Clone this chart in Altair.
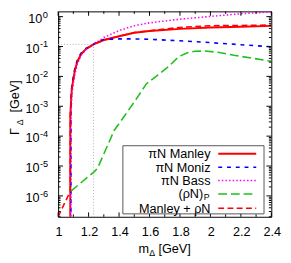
import altair as alt
import pandas as pd

# ---------------- data ----------------
m_manley = [1.0795, 1.08, 1.085, 1.09, 1.1, 1.11, 1.125, 1.15, 1.18, 1.21, 1.232,
            1.3, 1.4, 1.5, 1.6, 1.8, 2.0, 2.2, 2.4]
g_manley = [1e-8, 5e-4, 1.5e-3, 4e-3, 8e-3, 0.016, 0.03, 0.055, 0.08, 0.1, 0.118,
            0.165, 0.22, 0.29, 0.33, 0.39, 0.43, 0.46, 0.49]

m_moniz = [1.0835, 1.084, 1.085, 1.09, 1.1, 1.11, 1.125, 1.15, 1.18, 1.21, 1.232,
           1.26, 1.3, 1.4, 1.5, 1.6, 1.8, 2.0, 2.2, 2.4]
g_moniz = [1e-8, 4e-4, 1.8e-3, 5e-3, 0.01, 0.019, 0.034, 0.06, 0.085, 0.104, 0.118,
           0.15, 0.172, 0.18, 0.18, 0.175, 0.155, 0.135, 0.115, 0.098]

m_bass = [1.0835, 1.084, 1.085, 1.09, 1.1, 1.11, 1.125, 1.15, 1.18, 1.21, 1.232,
          1.3, 1.4, 1.5, 1.6, 1.8, 2.0, 2.2, 2.4]
g_bass = [1e-8, 1e-4, 6e-4, 2.5e-3, 6e-3, 0.012, 0.025, 0.05, 0.077, 0.1, 0.118,
          0.2, 0.34, 0.5, 0.62, 0.82, 1.02, 1.25, 1.45]

m_rhon = [1.084, 1.238, 1.259, 1.31, 1.368, 1.44, 1.515, 1.579, 1.65, 1.728, 1.792,
          1.85, 1.898, 1.962, 2.05, 2.154, 2.27, 2.4]
g_rhon = [1.45e-6, 6.5e-6, 8.5e-6, 3.3e-5, 1.55e-4, 5.1e-4, 1.8e-3, 5.6e-3, 0.0107,
          0.022, 0.046, 0.062, 0.069, 0.071, 0.064, 0.051, 0.041, 0.032]

m_sum = [1.0, 1.079, 1.0795, 1.08, 1.085, 1.09, 1.1, 1.11, 1.125, 1.15, 1.18, 1.21,
         1.232, 1.3, 1.4, 1.5, 1.6, 1.8, 2.0, 2.2, 2.4]
g_sum = [2e-7, 1.4e-6, 1.5e-6, 5e-4, 1.5e-3, 4e-3, 8e-3, 0.016, 0.03, 0.055, 0.08, 0.1,
         0.118, 0.165, 0.22, 0.292, 0.338, 0.436, 0.498, 0.507, 0.522]

ref_m = [1.0, 1.232, 1.232]
ref_g = [0.118, 0.118, 2e-7]

legend_labels = ["πN Manley", "πN Moniz", "πN Bass", "(ρN)", "Manley + ρN"]
x_major = [1.0, 1.2, 1.4, 1.6, 1.8, 2.0, 2.2, 2.4]
x_minor = [1.1, 1.3, 1.5, 1.7, 1.9, 2.1, 2.3]
x_labels = ["1", "1.2", "1.4", "1.6", "1.8", "2", "2.2", "2.4"]
y_exps = [0, -1, -2, -3, -4, -5, -6]

# ---------------- layout ----------------
W, H = 219, 211
FONT = "Liberation Sans"
YDOM = [2e-7, 1.5]
xs = alt.Scale(domain=[1.0, 2.4], nice=False, zero=False)
ys = alt.Scale(type="log", domain=YDOM, nice=False)


def X(f="m"):
    return alt.X(f"{f}:Q", scale=xs, axis=None)


def Y(f="g"):
    return alt.Y(f"{f}:Q", scale=ys, axis=None)


def curve(ms, gs, color, width, dash=None):
    df = pd.DataFrame({"m": ms, "g": gs, "i": list(range(len(ms)))})
    kw = dict(color=color, strokeWidth=width, clip=True)
    if dash:
        kw["strokeDash"] = dash
    return alt.Chart(df).mark_line(**kw).encode(x=X(), y=Y(), order=alt.Order("i:Q"))


one = pd.DataFrame({"a": [0]})

RED, BLUE, MAG, GREEN = "#ff0000", "#0000ff", "#ff00ff", "#1fc01f"
styles = [
    (RED, 2, None),
    (BLUE, 1.6, [4, 5]),
    (MAG, 1.6, [1.5, 2.2]),
    (GREEN, 1.6, [9, 4]),
    (RED, 1.6, [6, 3.5]),
]

layers = []
layers.append(curve(ref_m, ref_g, "#b0b0b0", 1, [1, 2]))
layers.append(curve(m_manley, g_manley, *styles[0]))
layers.append(curve(m_moniz, g_moniz, *styles[1]))
layers.append(curve(m_bass, g_bass, *styles[2]))
layers.append(curve(m_rhon, g_rhon, *styles[3]))
layers.append(curve(m_sum, g_sum, *styles[4]))

# ---------------- ticks (inward, all four sides) ----------------
xmaj = pd.DataFrame({"t": x_major})
xmin = pd.DataFrame({"t": x_minor})
for df, L in ((xmaj, 4.5), (xmin, 2.5)):
    layers.append(alt.Chart(df).mark_rule(color="black", strokeWidth=1).encode(
        x=X("t"), y=alt.value(H), y2=alt.value(H - L)))
    layers.append(alt.Chart(df).mark_rule(color="black", strokeWidth=1).encode(
        x=X("t"), y=alt.value(0), y2=alt.value(L)))

ymaj_vals = [10.0 ** e for e in y_exps]
ymin_vals = [d * 10.0 ** k for k in range(-7, 1) for d in range(2, 10)
             if YDOM[0] <= d * 10.0 ** k <= YDOM[1]]
ymaj = pd.DataFrame({"t": ymaj_vals})
ymin = pd.DataFrame({"t": ymin_vals})
for df, L in ((ymaj, 5), (ymin, 2.5)):
    layers.append(alt.Chart(df).mark_rule(color="black", strokeWidth=1).encode(
        y=Y("t"), x=alt.value(0), x2=alt.value(L)))
    layers.append(alt.Chart(df).mark_rule(color="black", strokeWidth=1).encode(
        y=Y("t"), x=alt.value(W), x2=alt.value(W - L)))

# ---------------- tick labels ----------------
xl = pd.DataFrame({"t": x_major, "lab": x_labels})
layers.append(alt.Chart(xl).mark_text(font=FONT, fontSize=13, align="center",
                                      baseline="alphabetic", dx=1, color="black").encode(
    x=X("t"), y=alt.value(H + 19.3), text="lab:N"))

yl = pd.DataFrame({"v": ymaj_vals, "e": [str(e) for e in y_exps], "z": [e == 0 for e in y_exps]})
for zero, xb in ((True, -16.2), (False, -19.0)):
    sub = yl[yl["z"] == zero]
    layers.append(alt.Chart(sub).mark_text(font=FONT, fontSize=13, align="right",
                                           baseline="alphabetic", dy=6.5, color="black").encode(
        y=Y("v"), x=alt.value(xb), text=alt.value("10")))
    layers.append(alt.Chart(sub).mark_text(font=FONT, fontSize=9.5, align="left",
                                           baseline="alphabetic", dy=1, color="black").encode(
        y=Y("v"), x=alt.value(xb + 0.3), text="e:N"))

# ---------------- axis titles ----------------
def txt(s, x, y, size=13, align="left", angle=0):
    kw = dict(font=FONT, fontSize=size, align=align, baseline="alphabetic", color="black")
    if angle:
        kw["angle"] = angle
    return alt.Chart(one).mark_text(**kw).encode(x=alt.value(x), y=alt.value(y), text=alt.value(s))


layers.append(txt("m", 82.5, 248))
layers.append(txt("Δ", 93.5, 251, size=9))
layers.append(txt("[GeV]", 103, 248))

layers.append(txt("Γ", -40, 127, angle=270))
layers.append(txt("Δ", -36.5, 117, size=9, angle=270))
layers.append(txt("[GeV]", -40, 104, angle=270))

# ---------------- legend ----------------
layers.append(alt.Chart(one).mark_rect(fill="white", stroke="#555555", strokeWidth=1).encode(
    x=alt.value(66.5), x2=alt.value(211.5), y=alt.value(138), y2=alt.value(208)))
base0, step = 151.0, 13.75
for i, (lab, (col, wdt, dash)) in enumerate(zip(legend_labels, styles)):
    yb = base0 + i * step
    if i == 4:
        yb += 1
    kw = dict(color=col, strokeWidth=wdt)
    if dash:
        kw["strokeDash"] = dash
    layers.append(alt.Chart(one).mark_rule(**kw).encode(
        x=alt.value(164.5), x2=alt.value(203.5), y=alt.value(yb - 4.7)))
    if i == 3:
        layers.append(txt(lab, 149, yb - 0.5, align="right"))
        layers.append(txt("P", 149.5, yb + 1, size=9))
    else:
        layers.append(txt(lab, 156.5, yb, align="right"))

chart = alt.layer(*layers).properties(
    width=W, height=H,
    autosize=alt.AutoSizeParams(type="none"),
    padding={"left": 51.5, "top": 0, "right": 12, "bottom": 44},
).configure_view(stroke="black", strokeWidth=1)

chart.save("out.html", embed_options={"renderer": "svg", "actions": False})
